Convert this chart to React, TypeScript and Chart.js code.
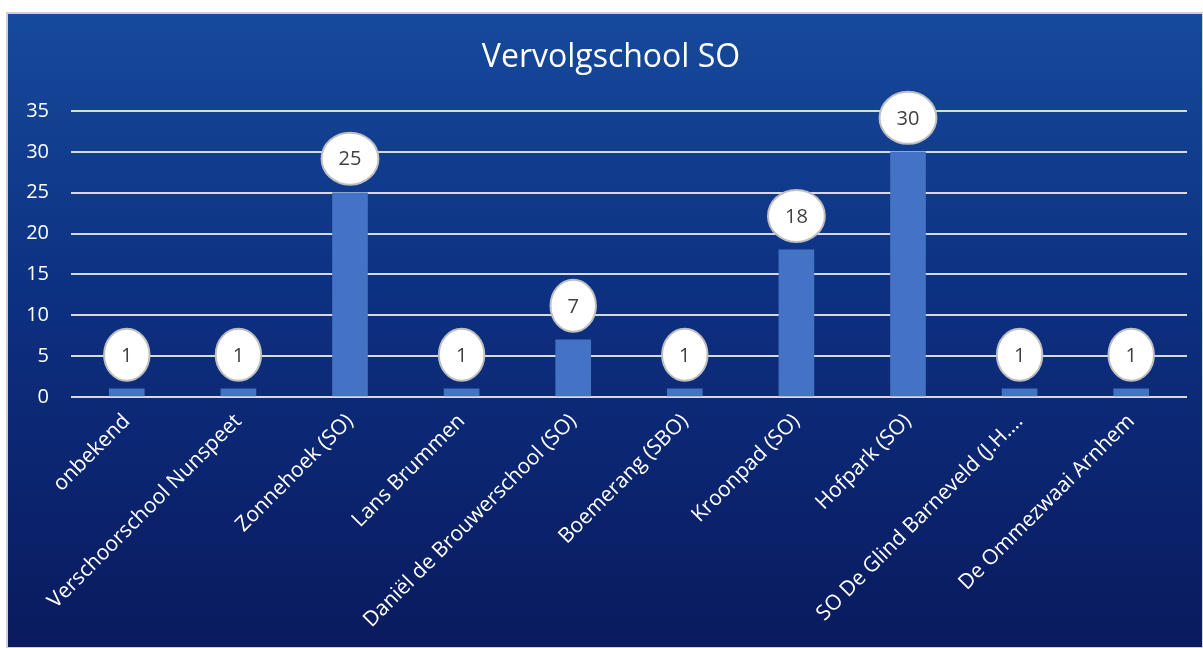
import React, { useEffect, useRef } from "react";
import { Chart, registerables } from "chart.js";

Chart.register(...registerables);

const categories = [
  "onbekend",
  "Verschoorschool Nunspeet",
  "Zonnehoek (SO)",
  "Lans Brummen",
  "Daniël de Brouwerschool (SO)",
  "Boemerang (SBO)",
  "Kroonpad (SO)",
  "Hofpark (SO)",
  "SO De Glind Barneveld (J.H.…",
  "De Ommezwaai Arnhem",
];
const values = [1, 1, 25, 1, 7, 1, 18, 30, 1, 1];
const yTicks = [0, 5, 10, 15, 20, 25, 30, 35];
const chartTitle = "Vervolgschool SO";

const FONT = "'Open Sans', 'Liberation Sans', sans-serif";

const bgPlugin = {
  id: "bgPlugin",
  beforeDraw(chart: any) {
    const { ctx, width, height } = chart;
    ctx.save();
    const g = ctx.createLinearGradient(0, 0, 0, height);
    g.addColorStop(0, "#164a9c");
    g.addColorStop(0.45, "#0d3081");
    g.addColorStop(1, "#0a1a5e");
    ctx.fillStyle = g;
    ctx.fillRect(0, 0, width, height);
    ctx.strokeStyle = "#d0d0d0";
    ctx.lineWidth = 2;
    ctx.strokeRect(1, 1, width - 1, height - 1);
    ctx.fillStyle = "#ffffff";
    ctx.font = `32px ${FONT}`;
    ctx.textAlign = "center";
    ctx.textBaseline = "middle";
    ctx.fillText(chartTitle, 605, 46);
    ctx.restore();
  },
};

const labelPlugin = {
  id: "ellipseLabels",
  afterDatasetsDraw(chart: any) {
    const { ctx } = chart;
    const meta = chart.getDatasetMeta(0);
    ctx.save();
    ctx.font = `20px ${FONT}`;
    meta.data.forEach((bar: any, i: number) => {
      const txt = String(values[i]);
      const tw = ctx.measureText(txt).width;
      const rx = Math.max(20, tw / 2 + 17);
      const ry = 26;
      const cx = bar.x;
      const cy = bar.y - 34;
      ctx.beginPath();
      ctx.ellipse(cx, cy, rx, ry, 0, 0, Math.PI * 2);
      ctx.fillStyle = "#ffffff";
      ctx.fill();
      ctx.lineWidth = 2;
      ctx.strokeStyle = "#bfbfbf";
      ctx.stroke();
      ctx.fillStyle = "#404040";
      ctx.textAlign = "center";
      ctx.textBaseline = "middle";
      ctx.fillText(txt, cx, cy + 1);
    });
    ctx.restore();
  },
};

export default function App() {
  const ref = useRef<HTMLCanvasElement | null>(null);
  useEffect(() => {
    document.body.style.overflow = "hidden";
    const chart = new Chart(ref.current as HTMLCanvasElement, {
      type: "bar",
      data: {
        labels: categories,
        datasets: [
          {
            data: values,
            backgroundColor: "#4472c4",
            barThickness: 35,
          },
        ],
      },
      options: {
        animation: false,
        responsive: false,
        maintainAspectRatio: false,
        layout: { padding: { left: 0, right: 16, top: 99, bottom: 0 } },
        plugins: {
          legend: { display: false },
          tooltip: { enabled: false },
          title: { display: false },
        },
        scales: {
          x: {
            grid: { display: false, drawTicks: false },
            border: { display: false },
            ticks: {
              color: "#ffffff",
              font: { family: FONT, size: 21 },
              maxRotation: 45,
              minRotation: 45,
              padding: 12,
              autoSkip: false,
            },
            afterFit(scale: any) {
              scale.height = 251;
            },
          },
          y: {
            min: 0,
            max: 35,
            afterBuildTicks(scale: any) {
              scale.ticks = yTicks.map((v) => ({ value: v }));
            },
            grid: { color: "#d9d9d9", lineWidth: 2, drawTicks: false },
            border: { display: false },
            ticks: {
              color: "#ffffff",
              font: { family: FONT, size: 20 },
              padding: 22,
            },
            afterFit(scale: any) {
              scale.width = 65;
            },
          },
        },
      },
      plugins: [bgPlugin, labelPlugin],
    });
    return () => chart.destroy();
  }, []);
  return (
    <div style={{ position: "absolute", left: 6, top: 12, width: 1197, height: 636 }}>
      <canvas ref={ref} width={1197} height={636} style={{ display: "block" }} />
    </div>
  );
}
